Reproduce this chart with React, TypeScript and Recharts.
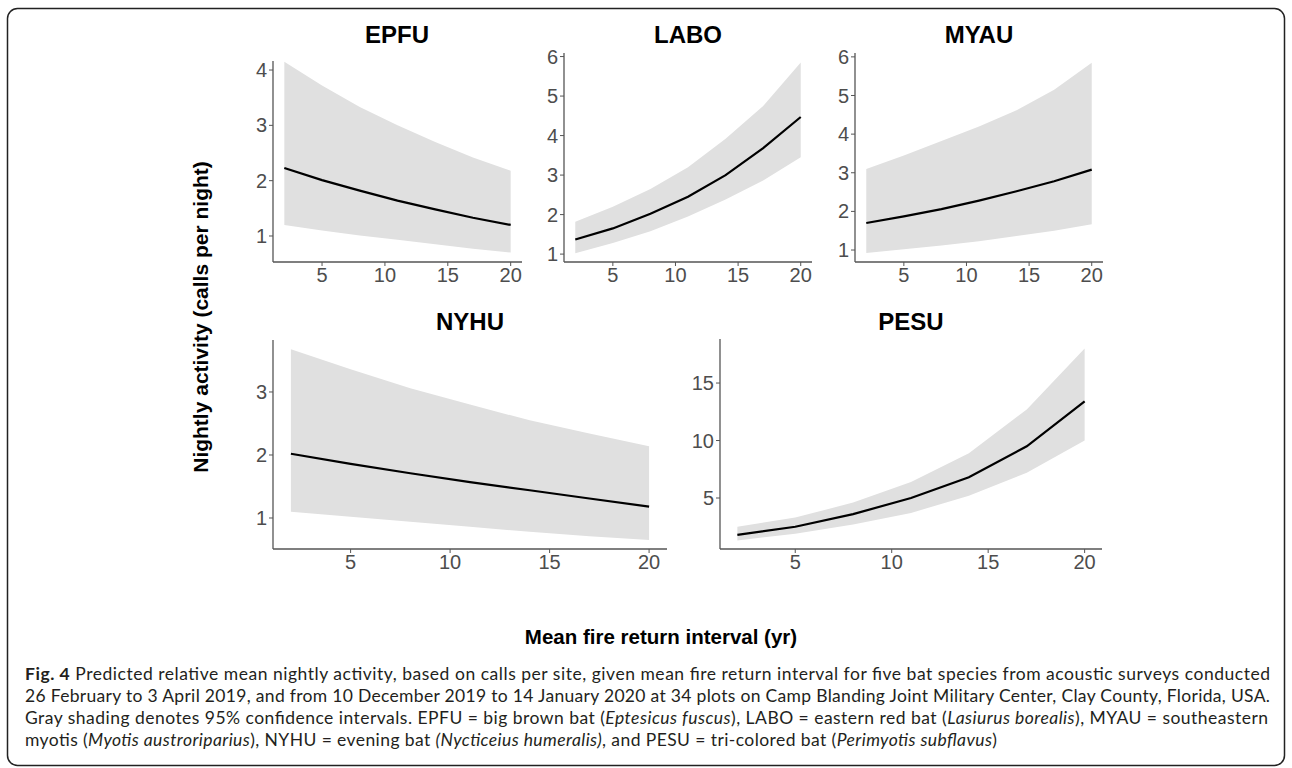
import { ComposedChart, Area, Line, XAxis, YAxis } from "recharts";

// fire return interval (yr) at which the model was evaluated
const years = [2, 5, 8, 11, 14, 17, 20];

const epfuFit = [2.23, 2.01, 1.82, 1.64, 1.48, 1.33, 1.2];
const epfuLow = [1.2, 1.1, 1.01, 0.93, 0.85, 0.77, 0.7];
const epfuHigh = [4.15, 3.72, 3.33, 3.0, 2.7, 2.42, 2.18];

const laboFit = [1.37, 1.65, 2.02, 2.45, 3.0, 3.68, 4.47];
const laboLow = [1.02, 1.28, 1.58, 1.95, 2.38, 2.86, 3.45];
const laboHigh = [1.82, 2.2, 2.65, 3.2, 3.92, 4.75, 5.85];

const myauFit = [1.7, 1.87, 2.06, 2.28, 2.52, 2.78, 3.08];
const myauLow = [0.92, 1.02, 1.12, 1.23, 1.36, 1.5, 1.67];
const myauHigh = [3.1, 3.45, 3.82, 4.2, 4.62, 5.15, 5.85];

const nyhuFit = [2.02, 1.86, 1.71, 1.57, 1.44, 1.31, 1.18];
const nyhuLow = [1.1, 1.02, 0.94, 0.86, 0.78, 0.71, 0.65];
const nyhuHigh = [3.68, 3.36, 3.06, 2.8, 2.55, 2.34, 2.14];

const pesuFit = [1.8, 2.5, 3.6, 5.0, 6.8, 9.5, 13.4];
const pesuLow = [1.3, 1.9, 2.7, 3.7, 5.2, 7.2, 10.0];
const pesuHigh = [2.5, 3.3, 4.6, 6.4, 8.9, 12.7, 18.0];

const xTicks = [5, 10, 15, 20];

const rows = (fit: number[], low: number[], high: number[]) =>
  years.map((x, i) => ({ x, fit: fit[i], ci: [low[i], high[i]] }));

const AXIS = "#555555";
const TICK = { fill: "#4d4d4d", fontSize: 20, fontFamily: "Liberation Sans, Arial, sans-serif" };

interface PanelProps {
  data: ReturnType<typeof rows>;
  left: number;
  top: number;
  right: number;
  bottom: number;
  yDomain: [number, number];
  yTicks: number[];
}

function Panel({ data, left, top, right, bottom, yDomain, yTicks }: PanelProps) {
  const yw = 50, mt = 10, mr = 20, xh = 40;
  const w = yw + (right - left) + mr;
  const h = mt + (bottom - top) + xh;
  return (
    <div style={{ position: "absolute", left: left - yw, top: top - mt }}>
      <ComposedChart width={w} height={h} data={data} margin={{ top: mt, right: mr, left: 0, bottom: 0 }}>
        <XAxis
          dataKey="x"
          type="number"
          domain={[1.1, 20.9]}
          ticks={xTicks}
          height={xh}
          tick={TICK}
          tickSize={4}
          tickMargin={2}
          axisLine={{ stroke: AXIS, strokeWidth: 1.3 }}
          tickLine={{ stroke: AXIS }}
        />
        <YAxis
          type="number"
          domain={yDomain}
          ticks={yTicks}
          width={yw}
          allowDataOverflow
          tick={TICK}
          tickSize={4}
          tickMargin={2}
          axisLine={{ stroke: AXIS, strokeWidth: 1.3 }}
          tickLine={{ stroke: AXIS }}
        />
        <Area type="linear" dataKey="ci" fill="#e0e0e0" fillOpacity={1} stroke="none" isAnimationActive={false} />
        <Line type="linear" dataKey="fit" stroke="#000" strokeWidth={2.2} dot={false} isAnimationActive={false} />
      </ComposedChart>
    </div>
  );
}

const titleStyle = { fontFamily: "Liberation Sans, Arial, sans-serif", fontWeight: 700, fontSize: 24, fill: "#000" };
const capStyle = { fontFamily: "Lato, sans-serif", fontSize: 17.5, fill: "#231f20" };

export default function App() {
  return (
    <div style={{ position: "fixed", left: 0, top: 0, width: 1292, height: 768, background: "#fff" }}>
      <svg width={1292} height={768} style={{ position: "absolute", left: 0, top: 0 }}>
        <rect x={7.5} y={8.5} width={1277} height={757} rx={10} fill="none" stroke="#222" strokeWidth={1.5} />
        <text x={397} y={43} textAnchor="middle" style={titleStyle}>EPFU</text>
        <text x={688} y={43} textAnchor="middle" style={titleStyle}>LABO</text>
        <text x={979} y={43} textAnchor="middle" style={titleStyle}>MYAU</text>
        <text x={470} y={330} textAnchor="middle" style={titleStyle}>NYHU</text>
        <text x={911} y={330} textAnchor="middle" style={titleStyle}>PESU</text>
        <text transform="translate(208,317) rotate(-90)" textAnchor="middle" style={{ ...titleStyle, fontSize: 21 }}>
          Nightly activity (calls per night)
        </text>
        <text x={661} y={644} textAnchor="middle" style={{ ...titleStyle, fontSize: 20.5 }}>
          Mean fire return interval (yr)
        </text>
        <text x={25} y={680} textLength={1245} lengthAdjust="spacing" style={capStyle}>
          <tspan fontWeight={700}>Fig. 4</tspan> Predicted relative mean nightly activity, based on calls per site, given mean fire return interval for five bat species from acoustic surveys conducted
        </text>
        <text x={25} y={702} textLength={1245} lengthAdjust="spacing" style={capStyle}>
          26 February to 3 April 2019, and from 10 December 2019 to 14 January 2020 at 34 plots on Camp Blanding Joint Military Center, Clay County, Florida, USA.
        </text>
        <text x={25} y={724} textLength={1243} lengthAdjust="spacing" style={capStyle}>
          Gray shading denotes 95% confidence intervals. EPFU = big brown bat (<tspan fontStyle="italic">Eptesicus fuscus</tspan>), LABO = eastern red bat (<tspan fontStyle="italic">Lasiurus borealis</tspan>), MYAU = southeastern
        </text>
        <text x={25} y={746} textLength={972} lengthAdjust="spacing" style={capStyle}>
          myotis (<tspan fontStyle="italic">Myotis austroriparius</tspan>), NYHU = evening bat <tspan fontStyle="italic">(Nycticeius humeralis)</tspan>, and PESU = tri-colored bat (<tspan fontStyle="italic">Perimyotis subflavus</tspan>)
        </text>
      </svg>
      <Panel data={rows(epfuFit, epfuLow, epfuHigh)} left={273} top={61} right={522} bottom={262} yDomain={[0.53, 4.163]} yTicks={[1, 2, 3, 4]} />
      <Panel data={rows(laboFit, laboLow, laboHigh)} left={564} top={53} right={812} bottom={262} yDomain={[0.8, 6.09]} yTicks={[1, 2, 3, 4, 5, 6]} />
      <Panel data={rows(myauFit, myauLow, myauHigh)} left={855} top={53} right={1103} bottom={262} yDomain={[0.69, 6.1]} yTicks={[1, 2, 3, 4, 5, 6]} />
      <Panel data={rows(nyhuFit, nyhuLow, nyhuHigh)} left={273} top={340} right={667} bottom={549} yDomain={[0.508, 3.825]} yTicks={[1, 2, 3]} />
      <Panel data={rows(pesuFit, pesuLow, pesuHigh)} left={720} top={339} right={1102} bottom={549} yDomain={[0.565, 18.83]} yTicks={[5, 10, 15]} />
    </div>
  );
}
